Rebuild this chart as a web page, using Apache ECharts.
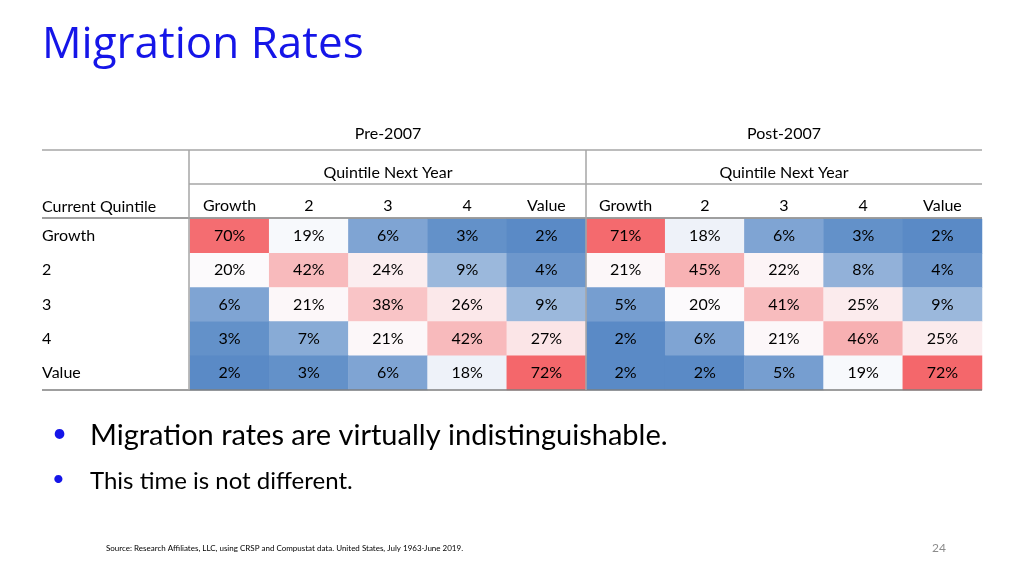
<!DOCTYPE html>
<html>
<head>
<meta charset="utf-8">
<script src="https://cdn.jsdelivr.net/npm/echarts@6/dist/echarts.min.js"></script>
<style>html,body{margin:0;padding:0;background:#fff}#main{width:1024px;height:575px}</style>
</head>
<body>
<div id="main"></div>
<script>
// 行：当前分位；列：下一年分位（前5列 Pre-2007，后5列 Post-2007）
var rowLabels = ['Growth', '2', '3', '4', 'Value'];
var colLabels = ['Growth', '2', '3', '4', 'Value', 'Growth', '2', '3', '4', 'Value'];
var pre2007 = [
    [70, 19, 6, 3, 2],
    [20, 42, 24, 9, 4],
    [6, 21, 38, 26, 9],
    [3, 7, 21, 42, 27],
    [2, 3, 6, 18, 72]
];
var post2007 = [
    [71, 18, 6, 3, 2],
    [21, 45, 22, 8, 4],
    [5, 20, 41, 25, 9],
    [2, 6, 21, 46, 25],
    [2, 2, 5, 19, 72]
];

var data = [];
for (var r = 0; r < 5; r++) {
    for (var c = 0; c < 5; c++) {
        data.push([c, r, pre2007[r][c]]);
        data.push([c + 5, r, post2007[r][c]]);
    }
}

var chart = echarts.init(document.getElementById('main'));
var font = 'Lato';
var lineStyle = {stroke: '#a6a6a6', lineWidth: 1.5};
function hline(x1, x2, y, color) {
    return {type: 'line', shape: {x1: x1, y1: y, x2: x2, y2: y}, style: {stroke: color || '#a6a6a6', lineWidth: 1.5}, z: 10};
}
function vline(x, y1, y2) {
    return {type: 'line', shape: {x1: x, y1: y1, x2: x, y2: y2}, style: lineStyle, z: 10};
}
function txt(x, y, s, size, color, align, fam) {
    return {type: 'text', x: x, y: y, style: {text: s, fontSize: size, fill: color || '#000', fontFamily: fam || font, align: align || 'left', verticalAlign: 'middle'}};
}

chart.setOption({
    animation: false,
    grid: {left: 190, right: 42, top: 219, height: 171},
    xAxis: {
        type: 'category', data: colLabels, position: 'top',
        axisLine: {show: false}, axisTick: {show: false}, splitLine: {show: false},
        axisLabel: {margin: 5, fontFamily: font, fontSize: 16, color: '#000'}
    },
    yAxis: {
        type: 'category', data: rowLabels, inverse: true,
        axisLine: {show: false}, axisTick: {show: false},
        axisLabel: {margin: 148, align: 'left', fontFamily: font, fontSize: 16, color: '#000'}
    },
    visualMap: {
        show: false, type: 'continuous', min: 2, max: 72, dimension: 2,
        inRange: {color: ['#5a8ac6', '#fcfcfe', '#f9c6c8', '#f69b9d', '#f4676b']}
    },
    series: [{
        type: 'heatmap', data: data,
        label: {show: true, formatter: function (p) { return p.value[2] + '%'; }, fontFamily: font, fontSize: 16, color: '#000'},
        itemStyle: {borderWidth: 0}
    }],
    graphic: [
        txt(42, 45, 'Migration Rates', 44, '#1515e8', 'left', 'Open Sans'),
        txt(388, 134, 'Pre-2007', 16, '#000', 'center'),
        txt(784, 134, 'Post-2007', 16, '#000', 'center'),
        txt(388, 173, 'Quintile Next Year', 16, '#000', 'center'),
        txt(784, 173, 'Quintile Next Year', 16, '#000', 'center'),
        txt(42, 207, 'Current Quintile', 16),
        hline(42, 982, 150),
        hline(189, 982, 184),
        hline(42, 982, 218, '#7f7f7f'),
        hline(42, 982, 390, '#7f7f7f'),
        vline(189, 150, 390),
        vline(586, 150, 390),
        txt(52, 434, '•', 26, '#1515e8'),
        txt(90, 436, 'Migration rates are virtually indistinguishable.', 29),
        txt(52, 479, '•', 22, '#1515e8'),
        txt(90, 481, 'This time is not different.', 24),
        txt(106, 548, 'Source: Research Affiliates, LLC, using CRSP and Compustat data. United States, July 1963-June 2019.', 8),
        txt(946, 548, '24', 12, '#8c8c8c', 'right')
    ]
});
</script>
</body>
</html>
